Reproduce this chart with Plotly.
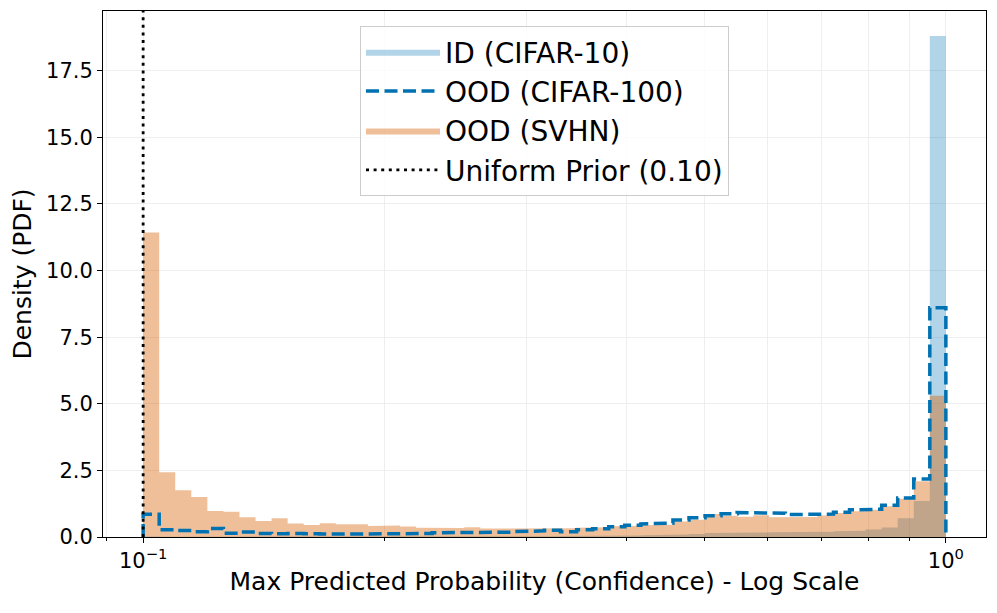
import numpy as np
import plotly.graph_objects as go

# ---- data ----
BIN_LO, BIN_HI, N_BINS = 0.1, 1.0, 50   # log-spaced histogram bins

id_cifar10 = [0.02, 0.01, 0.01, 0.01, 0.01, 0.01, 0.01, 0.01, 0.01, 0.01,
              0.01, 0.01, 0.01, 0.01, 0.01, 0.01, 0.01, 0.02, 0.02, 0.02,
              0.02, 0.02, 0.02, 0.03, 0.03, 0.03, 0.04, 0.04, 0.05, 0.05,
              0.06, 0.07, 0.08, 0.09, 0.11, 0.15, 0.16, 0.16, 0.17, 0.18,
              0.19, 0.20, 0.20, 0.22, 0.23, 0.28, 0.36, 0.70, 1.35, 18.80]

ood_cifar100 = [0.85, 0.27, 0.24, 0.20, 0.32, 0.14, 0.19, 0.13, 0.12, 0.13,
                0.12, 0.11, 0.11, 0.11, 0.11, 0.12, 0.13, 0.13, 0.16, 0.16,
                0.16, 0.17, 0.18, 0.20, 0.23, 0.25, 0.20, 0.27, 0.31, 0.38,
                0.44, 0.49, 0.52, 0.64, 0.72, 0.80, 0.87, 0.92, 0.92, 0.89,
                0.84, 0.83, 0.86, 0.93, 1.02, 1.04, 1.19, 1.46, 2.18, 8.60]

ood_svhn = [11.43, 2.43, 1.75, 1.50, 0.98, 0.95, 0.74, 0.60, 0.70, 0.51,
            0.45, 0.52, 0.48, 0.48, 0.41, 0.43, 0.39, 0.35, 0.34, 0.34,
            0.37, 0.32, 0.31, 0.31, 0.31, 0.31, 0.33, 0.35, 0.37, 0.40,
            0.42, 0.44, 0.46, 0.58, 0.65, 0.86, 0.80, 0.76, 0.82, 0.74,
            0.74, 0.75, 0.81, 0.90, 0.97, 1.02, 1.15, 1.44, 2.09, 5.30]

uniform_prior = 0.10

labels = ["ID (CIFAR-10)", "OOD (CIFAR-100)", "OOD (SVHN)", "Uniform Prior (0.10)"]
x_ticks = [0.1, 1.0]
x_ticktext = ["10<sup>−1</sup>", "10<sup>0</sup>"]
x_minor = [0.09, 0.2, 0.3, 0.4, 0.5, 0.6, 0.7, 0.8, 0.9]
y_ticks = [0, 2.5, 5, 7.5, 10, 12.5, 15, 17.5]

# ---- helpers ----
edges = np.logspace(np.log10(BIN_LO), np.log10(BIN_HI), N_BINS + 1)


def step_path(vals):
    """Outline of a histogram: up from 0 at the first edge, across each bin, down at the last edge."""
    v = np.asarray(vals, dtype=float)
    xs = np.repeat(edges, 2)
    ys = np.concatenate([[0.0], np.repeat(v, 2), [0.0]])
    return xs, ys


ymax = max(max(id_cifar10), max(ood_svhn), max(ood_cifar100)) * 1.05

FONT = "DejaVu Sans"
BLUE = "#0072B2"

fig = go.Figure()

x1, y1 = step_path(id_cifar10)
fig.add_trace(go.Scatter(x=x1, y=y1, mode="lines", fill="toself",
                         fillcolor="rgba(0,114,178,0.30)", line=dict(width=0),
                         name=labels[0], legendrank=1, legendgroup="a", hoverinfo="skip"))

x3, y3 = step_path(ood_svhn)
fig.add_trace(go.Scatter(x=x3, y=y3, mode="lines", fill="toself",
                         fillcolor="rgba(213,94,0,0.40)", line=dict(width=0),
                         name=labels[2], legendrank=3, legendgroup="c", hoverinfo="skip"))

x2, y2 = step_path(ood_cifar100)
fig.add_trace(go.Scatter(x=x2, y=y2, mode="lines",
                         line=dict(color=BLUE, width=3.5, dash="13px,5.5px"),
                         name=labels[1], legendrank=2, legendgroup="b", hoverinfo="skip"))

fig.add_trace(go.Scatter(x=[uniform_prior, uniform_prior], y=[0, ymax], mode="lines",
                         line=dict(color="black", width=2.8, dash="3px,4.6px"),
                         name=labels[3], legendrank=4, legendgroup="d", hoverinfo="skip"))

grid_c = "#eeeeee"
# page body has an 8px margin, so the figure is sized/placed to compensate
fig.update_layout(
    width=989, height=605,
    margin=dict(l=95, r=11, t=3, b=76),
    paper_bgcolor="white", plot_bgcolor="white",
    font=dict(family=FONT, color="black", size=21),
    showlegend=True,
    legend=dict(x=0.5, xanchor="center", y=0.9715, yanchor="top",
                font=dict(size=28, family=FONT),
                bgcolor="rgba(255,255,255,0.8)", bordercolor="#cccccc", borderwidth=1,
                itemwidth=74, traceorder="normal", tracegroupgap=5),
    xaxis=dict(type="log", range=[np.log10(BIN_LO) - 0.05, np.log10(BIN_HI) + 0.05],
               automargin=False,
               tickmode="array", tickvals=x_ticks, ticktext=x_ticktext,
               ticks="outside", ticklen=5, tickwidth=1, tickcolor="black",
               tickfont=dict(size=21),
               showline=True, linecolor="black", linewidth=1, mirror=True,
               showgrid=True, gridcolor=grid_c, gridwidth=1, zeroline=False,
               minor=dict(tickmode="array", tickvals=x_minor, ticks="outside", ticklen=3,
                          tickwidth=0.8, tickcolor="black", showgrid=True,
                          gridcolor=grid_c, gridwidth=1),
               title=dict(text="Max Predicted Probability (Confidence) - Log Scale",
                          font=dict(size=25), standoff=0)),
    yaxis=dict(range=[0, ymax], automargin=False,
               tickmode="array", tickvals=y_ticks,
               ticktext=[f"{v:.1f}" for v in y_ticks],
               ticks="outside", ticklen=5, tickwidth=1, tickcolor="black",
               tickfont=dict(size=21),
               showline=True, linecolor="black", linewidth=1, mirror=True,
               showgrid=True, gridcolor=grid_c, gridwidth=1, zeroline=False,
               title=dict(text="Density (PDF)", font=dict(size=25), standoff=12)),
)

fig.write_html("out.html")
